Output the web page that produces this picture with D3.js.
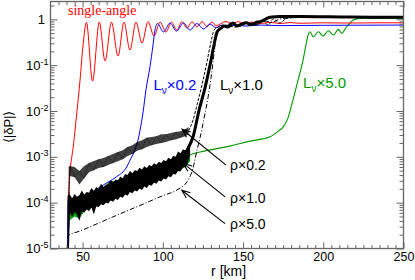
<!DOCTYPE html>
<html>
<head>
<meta charset="utf-8">
<script src="https://cdn.jsdelivr.net/npm/d3@7"></script>
<style>
body { margin: 0; background: #fff; }
svg { display: block; }
.axis line { stroke: #666; stroke-width: 1; }
text { font-family: "Liberation Sans", Arial, sans-serif; }
</style>
</head>
<body>
<svg width="415" height="280"></svg>
<script>
// axis ticks
var xTicks = [50, 100, 150, 200, 250];
var yTicks = [1e-5, 1e-4, 1e-3, 1e-2, 1e-1, 1];
var yTickExp = ['-5', '-4', '-3', '-2', '-1', ''];

// single-angle (red)
var redR = [40.9, 41.1, 44.7, 48.4, 50.3, 52.4, 56.2, 60.4, 64.0, 68.0, 72.1, 75.8, 79.5, 83.3, 87.0, 90.8,
    94.5, 98.3, 102.0, 105.4, 108.8, 111.9, 115.1, 118.2, 121.3, 124.4, 127.5, 130.7, 133.2, 139.4, 143.1,
    146.9, 151.2, 155.6, 160.6, 166.8, 173.0, 179.3, 185.5, 198.0, 216.7, 235.4, 250];
var redP = [1e-5, 1.3e-4, 2.4e-3, 0.047, 0.275, 0.85, 0.045, 0.87, 0.123, 0.87, 0.158, 0.87, 0.214, 0.87, 0.304, 0.89,
    0.432, 0.87, 0.528, 0.87, 0.584, 0.89, 0.645, 0.89, 0.679, 0.89, 0.696, 0.87, 0.73, 0.895, 0.81,
    0.887, 0.81, 0.873, 0.81, 0.86, 0.81, 0.85, 0.82, 0.84, 0.83, 0.84, 0.84];

// L x 0.2 (blue)
var blueR = [40.6, 41.0, 48.4, 54.6, 60.9, 65.8, 71.3, 77.5, 80.2, 82.7, 84.5, 85.8, 87.7, 89.5, 92.0, 93.9,
    95.1, 96.7, 100.4, 104.5, 108.5, 112.9, 116.9, 121.3, 125.4, 129.4, 133.2, 136.9, 140.6, 145.0, 151.2,
    160.6, 173.0, 198.0, 222.9, 250];
var blueP = [1e-5, 1.1e-4, 1.3e-4, 1.6e-4, 2.2e-4, 2.8e-4, 3.7e-4, 6.0e-4, 9.4e-4, 1.4e-3, 2.3e-3, 3.8e-3, 9.5e-3, 0.029, 0.092, 0.275,
    0.58, 0.81, 0.53, 0.83, 0.555, 0.83, 0.584, 0.81, 0.614, 0.79, 0.66, 0.75, 0.70, 0.75, 0.714,
    0.75, 0.73, 0.74, 0.745, 0.75];

// L x 5.0 (green): noisy band, then line
var greenBandR = [40.8, 42, 45, 48, 51, 54, 57, 60, 63, 66, 69, 72, 75, 78, 81, 84, 87, 90, 93, 96, 99, 102, 105, 108, 111, 114, 117];
var greenBandLo = [1e-5, 4.2e-5, 5.0e-5, 4.5e-5, 6.5e-5, 7.5e-5, 8.5e-5, 9.0e-5, 1.0e-4, 1.1e-4, 1.2e-4, 1.35e-4, 1.5e-4, 1.65e-4,
    1.8e-4, 2.0e-4, 2.2e-4, 2.4e-4, 2.7e-4, 3.0e-4, 3.3e-4, 3.7e-4, 4.1e-4, 4.6e-4, 5.2e-4, 6.0e-4, 8.0e-4];
var greenBandHi = [1.2e-4, 1.2e-4, 1.3e-4, 1.3e-4, 1.4e-4, 1.5e-4, 1.6e-4, 1.8e-4, 1.9e-4, 2.8e-4, 3.0e-4, 2.6e-4, 2.9e-4, 3.2e-4,
    3.6e-4, 4.0e-4, 4.4e-4, 4.8e-4, 5.3e-4, 5.8e-4, 6.3e-4, 6.9e-4, 7.5e-4, 8.2e-4, 9.0e-4, 9.8e-4, 1.07e-3];
var greenR = [113.8, 116.9, 123.2, 141.9, 154.3, 166.8, 171.8, 174.9, 178.0, 181.1, 184.3, 187.4, 189.2, 190.5, 191.7,
    193.8, 196.9, 200.0, 203.1, 206.3, 209.4, 211.5, 214.6, 216.7, 218.7, 222.9, 235.4, 250];
var greenP = [8.5e-4, 1.09e-3, 1.27e-3, 1.71e-3, 2.2e-3, 2.73e-3, 3.6e-3, 4.45e-3, 7.0e-3, 0.0173, 0.047, 0.129, 0.275, 0.45, 0.536,
    0.417, 0.536, 0.432, 0.564, 0.454, 0.605, 0.495, 0.689, 0.83, 0.966, 1.05, 1.05, 1.04];

// rho x 1.0 (thick black): noisy band, then line
var rho1BandR = [40.7, 41.5, 42, 43.5, 45, 46.5, 48, 49.5, 51, 52.5, 54, 55.5, 57, 58.5, 60, 61.5, 63, 64.5, 66, 67.5, 69,
    70.5, 72, 73.5, 75, 76.5, 78, 79.5, 81, 82.5, 84, 85.5, 87, 88.5, 90, 91.5, 93, 94.5, 96, 97.5, 99, 100.5,
    102, 103.5, 105, 106.5, 108, 109.5, 111, 112.5, 114, 115.5, 117];
var rho1BandHi = [1.4e-4, 1.6e-4, 1.5e-4, 1.25e-4, 1.55e-4, 1.35e-4, 1.45e-4, 1.85e-4, 1.5e-4, 1.7e-4, 1.65e-4, 2.1e-4, 1.8e-4, 2.2e-4,
    2.0e-4, 2.6e-4, 2.2e-4, 2.5e-4, 2.5e-4, 3.1e-4, 2.8e-4, 3.2e-4, 3.1e-4, 3.7e-4, 3.4e-4, 4.2e-4, 4.0e-4, 4.9e-4,
    4.4e-4, 5.1e-4, 4.9e-4, 5.8e-4, 5.3e-4, 6.2e-4, 5.7e-4, 6.6e-4, 6.2e-4, 7.2e-4, 6.7e-4, 7.8e-4, 7.3e-4, 8.5e-4,
    8.0e-4, 9.5e-4, 8.9e-4, 1.05e-3, 1.0e-3, 1.3e-3, 1.2e-3, 1.45e-3, 1.4e-3, 1.75e-3, 2.0e-3];
var rho1BandLo = [1e-5, 1e-5, 6.0e-5, 5.0e-5, 6.2e-5, 5.5e-5, 4.0e-5, 6.5e-5, 6.0e-5, 7.2e-5, 6.5e-5, 7.8e-5, 5.5e-5, 8.3e-5,
    8.0e-5, 9.2e-5, 8.8e-5, 1.0e-4, 9.6e-5, 1.12e-4, 1.05e-4, 1.22e-4, 1.15e-4, 1.35e-4, 1.28e-4, 1.5e-4, 1.42e-4, 1.7e-4,
    1.6e-4, 1.85e-4, 1.75e-4, 2.05e-4, 1.9e-4, 2.25e-4, 2.1e-4, 2.45e-4, 2.35e-4, 2.75e-4, 2.6e-4, 3.05e-4, 2.9e-4, 3.35e-4,
    3.2e-4, 3.75e-4, 3.6e-4, 4.2e-4, 4.1e-4, 4.9e-4, 4.8e-4, 5.9e-4, 6.0e-4, 7.4e-4, 1.1e-3];
var rho1R = [116.0, 118.8, 122.6, 126.3, 129.4, 131.9, 133.8, 136.3, 138.1, 140.6, 143.7, 146.2, 148.7, 152.3, 154.3,
    156.4, 158.7, 160.6, 162.4, 164.8, 168.0, 173.0, 185.5, 216.7, 250];
var rho1P = [1.6e-3, 2.7e-3, 0.0105, 0.032, 0.10, 0.275, 0.53, 0.645, 0.714, 0.68, 0.83, 0.714, 0.77, 0.843, 0.77,
    0.79, 0.873, 0.887, 0.94, 1.05, 1.12, 1.15, 1.15, 1.12, 1.11];

// rho x 0.2 (dashed black): noisy band, then line
var rho02BandR = [41.3, 42, 45, 48, 51, 54, 57, 60, 63, 66, 69, 72, 75, 78, 81, 84, 87, 90, 93, 96, 99, 102, 105, 108, 111, 114, 116];
var rho02BandHi = [6.0e-4, 6.3e-4, 6.0e-4, 4.9e-4, 6.3e-4, 7.3e-4, 8.1e-4, 8.9e-4, 9.4e-4, 1.04e-3, 1.15e-3, 1.27e-3, 1.4e-3, 1.63e-3,
    1.8e-3, 2.1e-3, 2.3e-3, 2.6e-3, 2.7e-3, 2.8e-3, 3.1e-3, 3.1e-3, 3.3e-3, 3.5e-3, 3.6e-3, 4.0e-3, 4.5e-3];
var rho02BandLo = [1e-5, 3.8e-4, 3.6e-4, 2.5e-4, 3.4e-4, 4.6e-4, 5.1e-4, 5.7e-4, 6.0e-4, 6.6e-4, 7.3e-4, 8.0e-4, 8.9e-4, 1.04e-3,
    1.15e-3, 1.35e-3, 1.47e-3, 1.63e-3, 1.8e-3, 1.9e-3, 2.0e-3, 2.1e-3, 2.3e-3, 2.4e-3, 2.6e-3, 2.8e-3, 3.1e-3];
var rho02R = [116.0, 118.8, 121.3, 124.4, 127.5, 130.0, 131.9, 134.4, 138.8, 145.0, 151.2, 157.5, 161.8, 165.6, 168.7,
    173.0, 177.4, 182.4, 198.0, 250];
var rho02P = [3.7e-3, 6.3e-3, 0.0135, 0.037, 0.117, 0.32, 0.58, 0.68, 0.75, 0.68, 0.87, 0.75, 0.97, 0.75, 1.02,
    0.83, 1.07, 1.09, 1.12, 1.11];

// rho x 5.0 (dash-dot black)
var rho5R = [40.7, 40.9, 48.4, 60.9, 73.3, 85.8, 98.2, 110.7, 113.8, 115.7, 117.6, 119.4, 121.3, 123.2, 125.7, 128.2,
    130.0, 131.3, 132.5, 134.1, 135.6, 138.8, 143.1, 148.1, 153.1, 158.1, 163.1, 168.1, 173.0, 179.3, 185.5, 250];
var rho5P = [1e-5, 1.9e-5, 2.4e-5, 3.7e-5, 5.7e-5, 8.7e-5, 1.34e-4, 2.07e-4, 2.5e-4, 3.1e-4, 4.2e-4, 6.9e-4, 1.4e-3, 2.6e-3, 7.0e-3, 0.020,
    0.052, 0.117, 0.275, 0.50, 0.61, 0.68, 0.85, 0.714, 0.85, 0.75, 0.92, 0.87, 1.02, 1.07, 1.12, 1.11];

// annotation arrows [r, P]
var arrowTails = [[139.4, 6.6e-4], [138.8, 1.34e-4], [138.8, 3.5e-5]];
var arrowHeads = [[112.0, 4.0e-3], [112.8, 7.2e-4], [111.8, 1.87e-4]];

var svg = d3.select('svg');
var padding = {t: 1.5, r: 11.5, b: 31.5, l: 50.5};
var chartWidth = 415 - padding.l - padding.r;
var chartHeight = 280 - padding.t - padding.b;

var chartG = svg.append('g')
    .attr('transform', 'translate(' + [padding.l, padding.t] + ')');

var xScale = d3.scaleLinear().domain([30, 250]).range([0, chartWidth]);
var yScale = d3.scaleLog().domain([1e-5, 2.45]).range([chartHeight, 0]);

chartG.append('clipPath').attr('id', 'plotClip')
    .append('rect').attr('width', chartWidth).attr('height', chartHeight);

var plotG = chartG.append('g').attr('clip-path', 'url(#plotClip)');

var line = d3.line()
    .x(function(d) { return xScale(d[0]); })
    .y(function(d) { return yScale(d[1]); })
    .curve(d3.curveMonotoneX);
var straight = d3.line()
    .x(function(d) { return xScale(d[0]); })
    .y(function(d) { return yScale(d[1]); });
var band = d3.area()
    .x(function(d) { return xScale(d[0]); })
    .y0(function(d) { return yScale(d[1]); })
    .y1(function(d) { return yScale(d[2]); });

function drawLine(r, p, color, width, dash) {
    plotG.append('path')
        .attr('d', line(d3.zip(r, p)))
        .attr('fill', 'none')
        .attr('stroke', color)
        .attr('stroke-width', width)
        .attr('stroke-linejoin', 'round')
        .attr('stroke-dasharray', dash || null);
}

// green band + line
plotG.append('path')
    .attr('d', band(d3.zip(greenBandR, greenBandLo, greenBandHi)))
    .attr('fill', '#009900');
drawLine(greenR, greenP, '#009900', 1.1);

drawLine(redR, redP, '#ff0000', 1);
drawLine(blueR, blueP, '#0000ff', 1);

// rho x 0.2 band (dotted texture)
var rho02Band = d3.zip(rho02BandR, rho02BandLo, rho02BandHi);
plotG.append('path')
    .attr('d', band(rho02Band))
    .attr('fill', '#000')
    .attr('fill-opacity', 0.75);
plotG.append('path')
    .attr('d', straight(rho02Band.map(function(d, i) { return [d[0], i % 2 ? d[2] : d[1]]; })))
    .attr('fill', 'none').attr('stroke', '#000').attr('stroke-width', 0.6)
    .attr('stroke-dasharray', '1.5,1');
drawLine(rho02R, rho02P, '#000', 1, '3,1.5');

// rho x 5.0
drawLine(rho5R, rho5P, '#000', 1, '5,2,1,2');

// rho x 1.0 band + thick line
plotG.append('path')
    .attr('d', band(d3.zip(rho1BandR, rho1BandLo, rho1BandHi)))
    .attr('fill', '#000');
drawLine(rho1R, rho1P, '#000', 3);

// axes with inward ticks on all four sides
var xMinor = d3.range(35, 250, 5).filter(function(v) { return v % 50 !== 0; });
var yMinor = [];
for (var k = -5; k <= 0; k++) {
    for (var m = 2; m <= 9; m++) {
        if (m * Math.pow(10, k) < 2.45) yMinor.push(m * Math.pow(10, k));
    }
}

function noDomain(g) { g.select('.domain').remove(); }

chartG.append('g').attr('class', 'axis')
    .attr('transform', 'translate(' + [0, chartHeight] + ')')
    .call(d3.axisBottom(xScale).tickValues(xMinor).tickSize(-3.5).tickFormat(''))
    .call(noDomain);
var xAxisG = chartG.append('g').attr('class', 'axis')
    .attr('transform', 'translate(' + [0, chartHeight] + ')')
    .call(d3.axisBottom(xScale).tickValues(xTicks).tickSize(-6).tickPadding(4))
    .call(noDomain);
xAxisG.selectAll('text').style('font-size', '12.5px').style('fill', '#000');

chartG.append('g').attr('class', 'axis')
    .call(d3.axisTop(xScale).tickValues(xMinor).tickSize(-3.5).tickFormat(''))
    .call(noDomain);
chartG.append('g').attr('class', 'axis')
    .call(d3.axisTop(xScale).tickValues(xTicks).tickSize(-6).tickFormat(''))
    .call(noDomain);

chartG.append('g').attr('class', 'axis')
    .call(d3.axisLeft(yScale).tickValues(yMinor).tickSize(-4).tickFormat(''))
    .call(noDomain);
chartG.append('g').attr('class', 'axis')
    .call(d3.axisLeft(yScale).tickValues(yTicks).tickSize(-7).tickFormat(''))
    .call(noDomain);
chartG.append('g').attr('class', 'axis')
    .attr('transform', 'translate(' + [chartWidth, 0] + ')')
    .call(d3.axisRight(yScale).tickValues(yMinor).tickSize(-4).tickFormat(''))
    .call(noDomain);
chartG.append('g').attr('class', 'axis')
    .attr('transform', 'translate(' + [chartWidth, 0] + ')')
    .call(d3.axisRight(yScale).tickValues(yTicks).tickSize(-7).tickFormat(''))
    .call(noDomain);

// y tick labels 10^n
yTicks.forEach(function(v, i) {
    var t = chartG.append('text')
        .attr('x', yTickExp[i] ? -2 : -5.5)
        .attr('y', yScale(v) + 4.5)
        .attr('text-anchor', 'end')
        .style('font-size', '13px')
        .style('fill', '#000');
    if (yTickExp[i]) {
        t.append('tspan').text('10');
        t.append('tspan').attr('dy', -5).style('font-size', '9px').text(yTickExp[i]);
    } else {
        t.text('1');
    }
});

// frame
chartG.append('rect')
    .attr('width', chartWidth).attr('height', chartHeight)
    .attr('fill', 'none').attr('stroke', '#666').attr('stroke-width', 1.3);

// axis titles
chartG.append('text')
    .attr('x', xScale(141)).attr('y', chartHeight + 27)
    .attr('text-anchor', 'middle')
    .style('font-size', '14px')
    .style('fill', '#000')
    .text('r [km]');
svg.append('text')
    .attr('transform', 'translate(13,' + (padding.t + yScale(4.5e-3)) + ') rotate(-90)')
    .attr('text-anchor', 'middle')
    .style('font-size', '13px')
    .style('fill', '#000')
    .text('\u27e8|\u03b4P|\u27e9');

// curve labels
chartG.append('text')
    .attr('x', xScale(40.9)).attr('y', yScale(1.24))
    .style('font-family', '"Liberation Serif", "Times New Roman", serif')
    .style('font-size', '14px')
    .style('fill', '#ff0000')
    .text('single-angle');

function lumLabel(r, p, factor, color) {
    var t = chartG.append('text')
        .attr('x', xScale(r)).attr('y', yScale(p))
        .style('font-size', '15px')
        .style('fill', color);
    t.append('tspan').text('L');
    t.append('tspan').attr('dy', 4).style('font-size', '10px').text('\u03bd');
    t.append('tspan').attr('dy', -4).text('\u00d7' + factor);
}
lumLabel(94.2, 0.0286, '0.2', '#0000ff');
lumLabel(135.6, 0.0286, '1.0', '#000');
lumLabel(187.4, 0.0324, '5.0', '#009900');

var rhoLabels = ['0.2', '1.0', '5.0'];
var rhoLabelP = [5.1e-4, 9.9e-5, 2.6e-5];
rhoLabels.forEach(function(f, i) {
    chartG.append('text')
        .attr('x', xScale(141.9)).attr('y', yScale(rhoLabelP[i]))
        .style('font-size', '14px')
        .style('fill', '#000')
        .text('\u03c1\u00d7' + f);
});

// arrows
arrowTails.forEach(function(tail, i) {
    var head = arrowHeads[i];
    var x1 = xScale(tail[0]), y1 = yScale(tail[1]);
    var x2 = xScale(head[0]), y2 = yScale(head[1]);
    var ang = Math.atan2(y1 - y2, x1 - x2);
    var L = 9, s = 0.38;
    var p = d3.path();
    p.moveTo(x1, y1); p.lineTo(x2, y2);
    p.moveTo(x2 + L * Math.cos(ang + s), y2 + L * Math.sin(ang + s));
    p.lineTo(x2, y2);
    p.lineTo(x2 + L * Math.cos(ang - s), y2 + L * Math.sin(ang - s));
    chartG.append('path')
        .attr('d', p.toString())
        .attr('fill', 'none').attr('stroke', '#000').attr('stroke-width', 1.1);
});
</script>
</body>
</html>
